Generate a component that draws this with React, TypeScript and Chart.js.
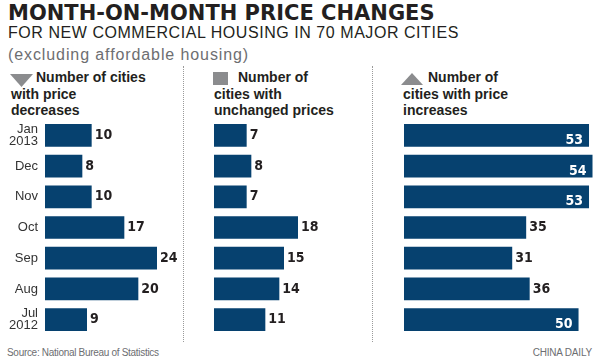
import React, { useEffect, useRef } from "react";
import { Chart, registerables } from "chart.js";
Chart.register(...registerables);

const months: (string | string[])[] = [["Jan", "2013"], "Dec", "Nov", "Oct", "Sep", "Aug", ["Jul", "2012"]];
const decreases = [10, 8, 10, 17, 24, 20, 9];
const unchanged = [7, 8, 7, 18, 15, 14, 11];
const increases = [53, 54, 53, 35, 31, 36, 50];

const BAR = "#06416f";
const SANS = '"Liberation Sans", Arial, sans-serif';
const NARROW = '"Liberation Sans Narrow", "Liberation Sans", Arial, sans-serif';
const HEAVY = '"DejaVu Sans Condensed", "DejaVu Sans", sans-serif';
const WIDEHEAVY = '"DejaVu Sans", sans-serif';

const valueLabels = {
  id: "valueLabels",
  afterDatasetsDraw(chart: any, _args: any, opts: any) {
    const ctx = chart.ctx;
    const meta = chart.getDatasetMeta(0);
    const data = chart.data.datasets[0].data as number[];
    ctx.save();
    ctx.font = "bold 14px " + HEAVY;
    ctx.textBaseline = "middle";
    meta.data.forEach((bar: any, i: number) => {
      const v = data[i];
      const inside = opts && opts.insideMin != null && v >= opts.insideMin;
      if (inside) {
        ctx.fillStyle = "#ffffff";
        ctx.textAlign = "right";
        ctx.fillText(String(v), bar.x - 6, bar.y + 5);
      } else {
        ctx.fillStyle = "#231f20";
        ctx.textAlign = "left";
        ctx.fillText(String(v), bar.x + 3, bar.y);
      }
    });
    ctx.restore();
  },
};

function makeConfig(data: number[], max: number, showLabels: boolean, insideMin: number | null): any {
  return {
    type: "bar",
    data: {
      labels: months,
      datasets: [
        {
          data,
          backgroundColor: BAR,
          borderWidth: 0,
          barPercentage: 0.74,
          categoryPercentage: 1,
        },
      ],
    },
    options: {
      indexAxis: "y",
      responsive: false,
      maintainAspectRatio: false,
      animation: false,
      layout: { padding: 0 },
      plugins: {
        legend: { display: false },
        tooltip: { enabled: false },
        valueLabels: { insideMin },
      },
      scales: {
        x: { display: false, min: 0, max },
        y: {
          display: showLabels,
          grid: { display: false, drawTicks: false },
          border: { display: false },
          ticks: {
            color: "#333333",
            font: { family: SANS, size: 13, lineHeight: 0.95 },
            padding: 7,
          },
          afterFit: (s: any) => {
            s.width = showLabels ? 45 : 0;
            s.paddingTop = 0;
            s.paddingBottom = 0;
          },
        },
      },
    },
    plugins: [valueLabels],
  };
}

function BarPanel(props: { data: number[]; max: number; showLabels: boolean; insideMin: number | null; left: number; width: number }) {
  const ref = useRef<HTMLCanvasElement>(null);
  useEffect(() => {
    if (!ref.current) return;
    const chart = new Chart(ref.current, makeConfig(props.data, props.max, props.showLabels, props.insideMin));
    return () => chart.destroy();
  }, []);
  return (
    <canvas
      ref={ref}
      width={props.width}
      height={215}
      style={{ position: "absolute", left: props.left, top: 120, width: props.width, height: 215 }}
    />
  );
}

const abs = (left: number, top: number, extra: any = {}) => ({ position: "absolute" as const, left, top, whiteSpace: "nowrap" as const, ...extra });

function Header(props: { x1: number; x2: number; lines: string[] }) {
  const st = { fontFamily: SANS, fontWeight: 700, fontSize: 14, lineHeight: "14px", color: "#231f20" };
  return (
    <>
      <div style={abs(props.x1, 70, st)}>{props.lines[0]}</div>
      <div style={abs(props.x2, 87, st)}>{props.lines[1]}</div>
      <div style={abs(props.x2, 103, st)}>{props.lines[2]}</div>
    </>
  );
}

export default function App() {
  const gray = "#8b8c8e";
  return (
    <div style={{ position: "absolute", left: 0, top: 0, width: 600, height: 364, background: "#ffffff", overflow: "hidden" }}>
      <div style={abs(8, 3.2, { fontFamily: WIDEHEAVY, fontWeight: 900, fontSize: 21, lineHeight: "21px", color: "#231f20" })}>
        MONTH-ON-MONTH PRICE CHANGES
      </div>
      <div style={abs(8, 24.5, { fontFamily: SANS, fontSize: 16, lineHeight: "16px", letterSpacing: "0.55px", color: "#231f20" })}>
        FOR NEW COMMERCIAL HOUSING IN 70 MAJOR CITIES
      </div>
      <div style={abs(8, 46.5, { fontFamily: SANS, fontSize: 16, lineHeight: "16px", letterSpacing: "0.9px", color: "#6d6e71" })}>
        (excluding affordable housing)
      </div>

      <div style={{ position: "absolute", left: 183, top: 66, height: 276, borderLeft: "1px dotted #9a9a9a" }} />
      <div style={{ position: "absolute", left: 372, top: 66, height: 276, borderLeft: "1px dotted #9a9a9a" }} />

      <svg style={{ position: "absolute", left: 0, top: 0 }} width={600} height={100}>
        <polygon points="10,74 33,74 21.5,87" fill={gray} />
        <rect x={213} y={72} width={15} height={13} fill={gray} />
        <polygon points="401,85 423,85 412,73" fill={gray} />
      </svg>

      <Header x1={36} x2={11} lines={["Number of cities", "with price", "decreases"]} />
      <Header x1={238} x2={214} lines={["Number of", "cities with", "unchanged prices"]} />
      <Header x1={428} x2={403} lines={["Number of", "cities with price", "increases"]} />

      <BarPanel data={decreases} max={30} showLabels={true} insideMin={null} left={0} width={185} />
      <BarPanel data={unchanged} max={30} showLabels={false} insideMin={null} left={214} width={140} />
      <BarPanel data={increases} max={55} showLabels={false} insideMin={50} left={404} width={192} />

      <div style={abs(7, 348, { fontFamily: NARROW, fontSize: 10, lineHeight: "10px", letterSpacing: "-0.3px", color: "#6d6e71" })}>
        Source: National Bureau of Statistics
      </div>
      <div style={abs(0, 348, { left: "auto", right: 8, fontFamily: NARROW, fontSize: 10, lineHeight: "10px", letterSpacing: "-0.2px", color: "#6d6e71" })}>
        CHINA DAILY
      </div>
    </div>
  );
}
